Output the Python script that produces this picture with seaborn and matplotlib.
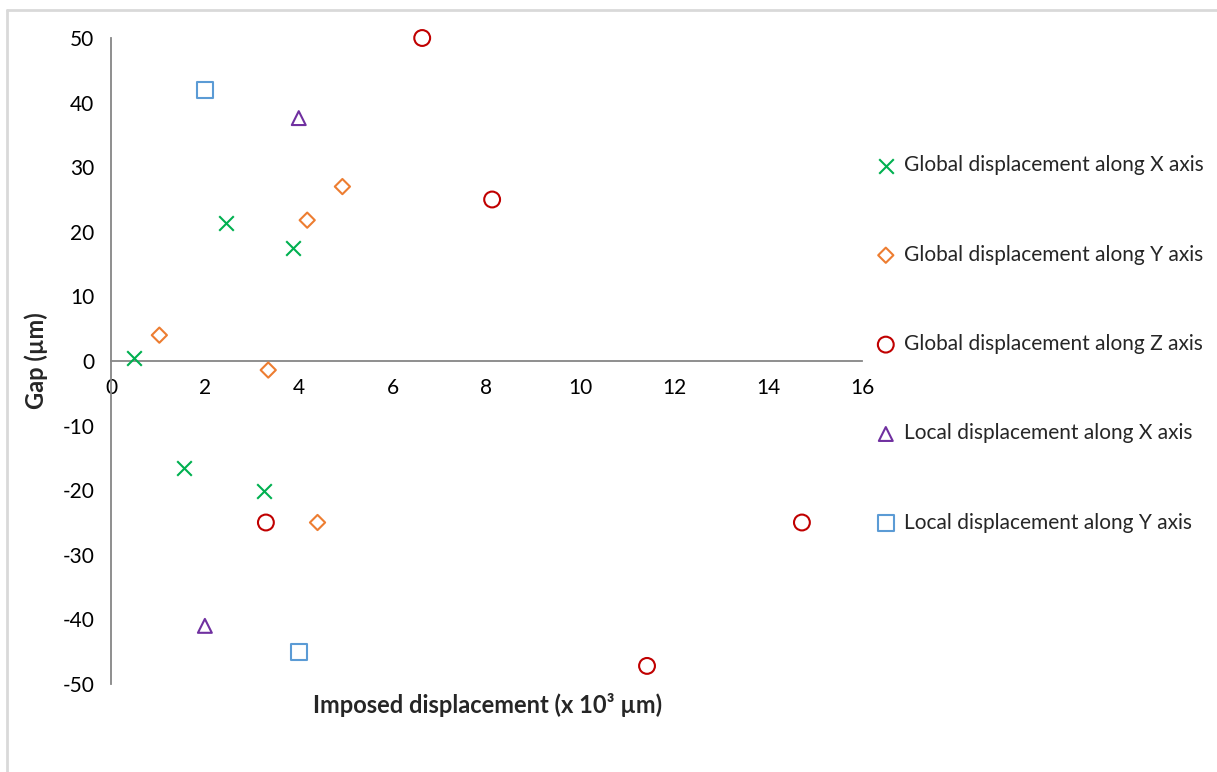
import matplotlib
matplotlib.use('Agg')
import pandas as pd
import numpy as np
import seaborn as sns
import matplotlib.pyplot as plt
import matplotlib.lines as mlines

# values (x in 10^3 um, gap in um)
gx_x = [0.5, 2.45, 3.87, 1.55, 3.25]
gx_y = [0.5, 21.4, 17.5, -16.6, -20.1]

gy_x = [1.03, 3.35, 4.18, 4.93, 4.4]
gy_y = [4.0, -1.4, 21.8, 27.0, -25.0]

gz_x = [6.63, 8.12, 3.3, 11.42, 14.72]
gz_y = [50.0, 25.0, -25.0, -47.2, -25.0]

lx_x = [4.0, 2.0]
lx_y = [37.6, -41.0]

ly_x = [2.0, 4.0]
ly_y = [42.0, -45.0]

labels = ['Global displacement along X axis', 'Global displacement along Y axis',
          'Global displacement along Z axis', 'Local displacement along X axis',
          'Local displacement along Y axis']
x_ticks = [0, 2, 4, 6, 8, 10, 12, 14, 16]
y_ticks = [-50, -40, -30, -20, -10, 0, 10, 20, 30, 40, 50]

sns.set_style('white')
plt.rcParams['font.family'] = ['Lato', 'DejaVu Sans']
plt.rcParams['axes.unicode_minus'] = False

fig = plt.figure(figsize=(12.17, 7.72), dpi=100)
ax = fig.add_axes([111 / 1217, 1 - 684 / 772, (862 - 111) / 1217, (684 - 38) / 772])

series = [
    (gx_x, gx_y, 'x', '#00B050', 110, False),
    (gy_x, gy_y, 'D', '#ED7D31', 60, True),
    (gz_x, gz_y, 'o', '#C00000', 130, True),
    (lx_x, lx_y, '^', '#7030A0', 100, True),
    (ly_x, ly_y, 's', '#5B9BD5', 130, True),
]

for (xs, ys, m, c, s, hollow), lab in zip(series, labels):
    df = pd.DataFrame({'x': xs, 'y': ys})
    if hollow:
        sns.scatterplot(data=df, x='x', y='y', marker=m, s=s, color=c,
                        facecolors='none', edgecolor=c, linewidth=1.5,
                        ax=ax, label=lab, clip_on=False, zorder=3)
    else:
        sns.scatterplot(data=df, x='x', y='y', marker=m, s=s, color=c,
                        linewidth=1.5, ax=ax, label=lab, clip_on=False, zorder=3)

ax.set_xlim(0, 16)
ax.set_ylim(-50, 50)
ax.set_xticks(x_ticks)
ax.set_yticks(y_ticks)

for side in ['top', 'right']:
    ax.spines[side].set_visible(False)
ax.spines['bottom'].set_position(('data', 0))
ax.spines['left'].set_color('#868686')
ax.spines['bottom'].set_color('#868686')
ax.spines['left'].set_linewidth(1.3)
ax.spines['bottom'].set_linewidth(1.3)
ax.tick_params(axis='both', direction='out', length=6, width=1.3, color='#868686',
               labelsize=15, labelcolor='black')
ax.tick_params(axis='x', pad=6)
ax.tick_params(axis='y', pad=6)

ax.set_xlabel('')
ax.set_ylabel('')
fig.text(488 / 1217, 1 - 705 / 772, 'Imposed displacement (x 10\u00b3 \u00b5m)',
         ha='center', va='center', fontsize=17, fontweight='bold')
fig.text(36 / 1217, 1 - 361 / 772, 'Gap (\u00b5m)', ha='center', va='center',
         rotation=90, fontsize=17, fontweight='bold')

leg = ax.legend(loc='upper left', bbox_to_anchor=(866 / 1217, 1 - 147 / 772),
                bbox_transform=fig.transFigure, frameon=False, fontsize=15,
                labelspacing=3.33, handletextpad=0.3, handlelength=1.1,
                borderaxespad=0, markerscale=1.0)

# chart area border (top and left edges visible in the reference)
border = dict(color='#D9D9D9', linewidth=2, transform=fig.transFigure)
fig.add_artist(mlines.Line2D([7 / 1217, 1], [1 - 10 / 772, 1 - 10 / 772], **border))
fig.add_artist(mlines.Line2D([7 / 1217, 7 / 1217], [0, 1 - 10 / 772], **border))

fig.savefig('out.png', dpi=100)
